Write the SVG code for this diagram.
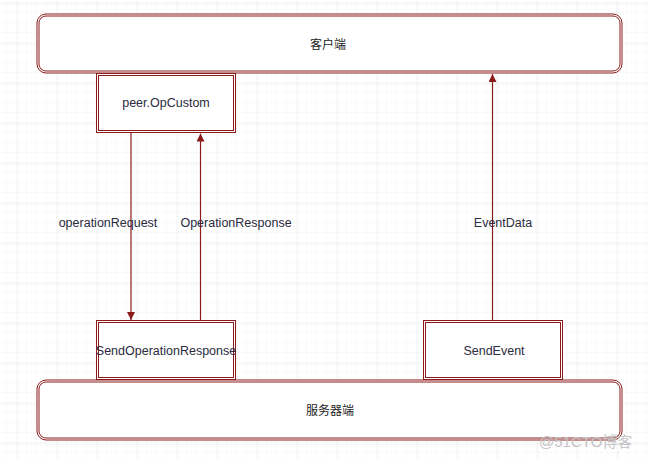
<svg xmlns="http://www.w3.org/2000/svg" width="648" height="459" viewBox="0 0 648 459">
<defs>
<pattern id="minor" width="10" height="10" patternUnits="userSpaceOnUse" x="7" y="3">
<path d="M10 0V10M0 10H10" fill="none" stroke="#f3f3f3" stroke-width="1"/>
</pattern>
<pattern id="major" width="40" height="40" patternUnits="userSpaceOnUse" x="17.5" y="3.5">
<path d="M0 0V40M0 0H40" fill="none" stroke="#e6e6e6" stroke-width="1"/>
</pattern>
<marker id="ah" viewBox="0 0 10 10" refX="10" refY="5" markerWidth="8" markerHeight="8" markerUnits="userSpaceOnUse" orient="auto">
<path d="M0 0L10 5L0 10z" fill="#8b1a1a"/>
</marker>
<style>
.o{fill:#fff;stroke:#8b1a1a;stroke-width:1}
.i{fill:none;stroke:#8b1a1a;stroke-width:1}
.t{font-family:"Liberation Sans",Arial,sans-serif;font-size:12.5px;fill:#2a2a40;text-anchor:middle}
.c{font-family:"Liberation Sans","Noto Sans CJK SC",sans-serif;font-size:12px;fill:#222;text-anchor:middle}
.e{stroke:#8b1a1a;stroke-width:1.2;fill:none}
</style>
</defs>
<rect width="648" height="459" fill="#fff"/>
<rect width="648" height="459" fill="url(#minor)"/>
<rect width="648" height="459" fill="url(#major)"/>

<g id="client">
<rect class="o" x="37" y="14" width="585" height="59" rx="9"/>
<rect class="i" x="39" y="16" width="581" height="55" rx="7"/>
<text class="c" x="328" y="49">客户端</text>
</g>

<g id="server">
<rect class="o" x="37" y="380" width="585" height="60" rx="9"/>
<rect class="i" x="39" y="382" width="581" height="56" rx="7"/>
<text class="c" x="330" y="415">服务器端</text>
</g>

<g id="peer">
<rect class="o" x="96.5" y="73.5" width="139" height="59"/>
<rect class="i" x="98.5" y="75.5" width="135" height="55"/>
<text class="t" x="166" y="107">peer.OpCustom</text>
</g>

<g id="sendop">
<rect class="o" x="96.5" y="320.5" width="139" height="59"/>
<rect class="i" x="98.5" y="322.5" width="135" height="55"/>
<text class="t" x="166" y="355">SendOperationResponse</text>
</g>

<g id="sendevent">
<rect class="o" x="423.5" y="320.5" width="139" height="59"/>
<rect class="i" x="425.5" y="322.5" width="135" height="55"/>
<text class="t" x="494" y="355">SendEvent</text>
</g>

<g id="connectors">
<path class="e" d="M131 133V320" marker-end="url(#ah)"/>
<path class="e" d="M200.5 320V133.5" marker-end="url(#ah)"/>
<path class="e" d="M492.5 320V74" marker-end="url(#ah)"/>
<text class="t" x="108" y="227">operationRequest</text>
<text class="t" x="236" y="227">OperationResponse</text>
<text class="t" x="503" y="227">EventData</text>
</g>

<text x="539" y="447" font-family="Liberation Sans,'Noto Sans CJK SC',sans-serif" font-size="15" fill="#c4c4c4">@51CTO博客</text>
</svg>
